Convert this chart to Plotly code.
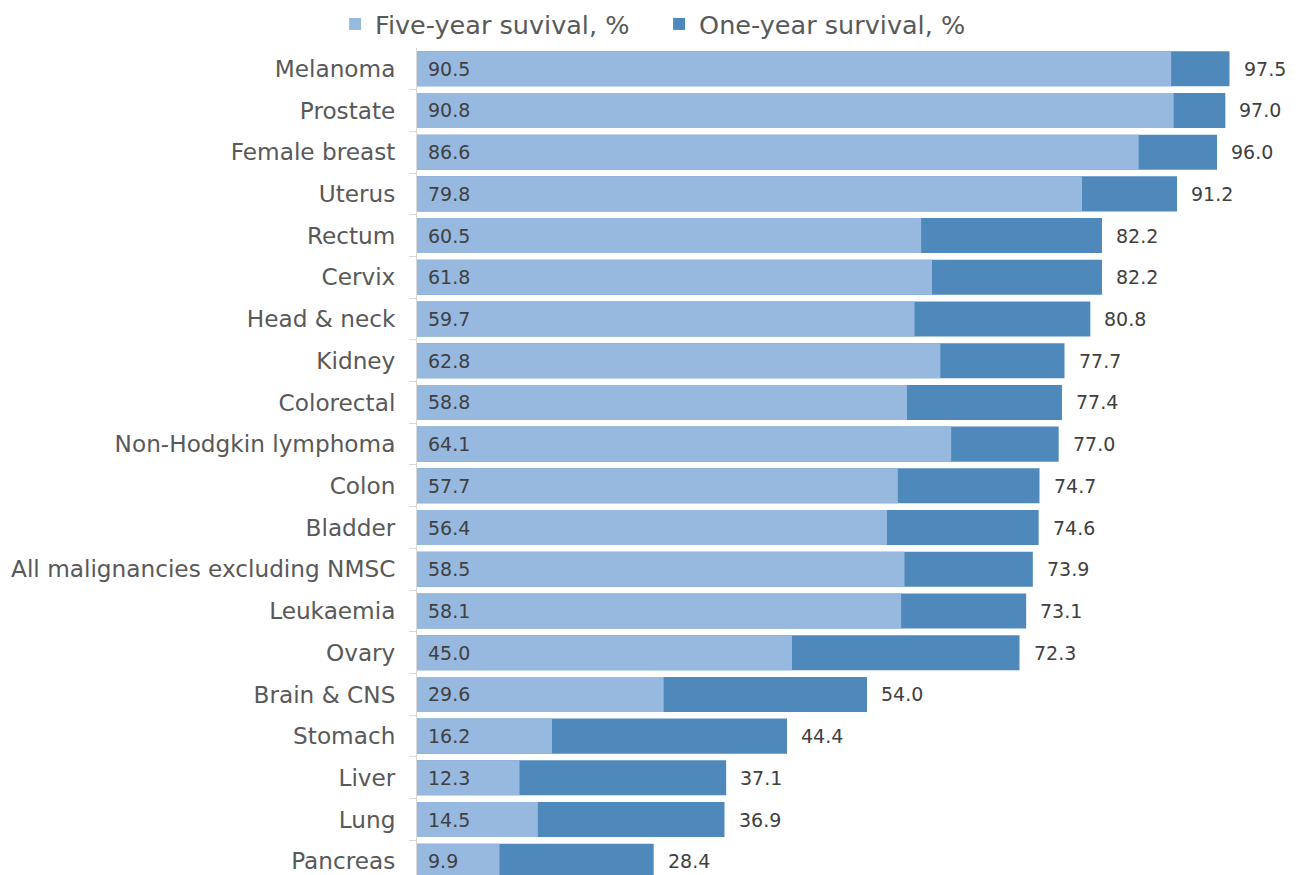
import plotly.graph_objects as go

sites = [
    "Melanoma", "Prostate", "Female breast", "Uterus", "Rectum", "Cervix",
    "Head & neck", "Kidney", "Colorectal", "Non-Hodgkin lymphoma", "Colon",
    "Bladder", "All malignancies excluding NMSC", "Leukaemia", "Ovary",
    "Brain & CNS", "Stomach", "Liver", "Lung", "Pancreas",
]
one_year = [97.5, 97.0, 96.0, 91.2, 82.2, 82.2, 80.8, 77.7, 77.4, 77.0,
            74.7, 74.6, 73.9, 73.1, 72.3, 54.0, 44.4, 37.1, 36.9, 28.4]
five_year = [90.5, 90.8, 86.6, 79.8, 60.5, 61.8, 59.7, 62.8, 58.8, 64.1,
             57.7, 56.4, 58.5, 58.1, 45.0, 29.6, 16.2, 12.3, 14.5, 9.9]

LIGHT = "#97B9E0"
DARK = "#4F89BC"
TEXT = "#404040"
LABEL = "#595959"
FONT = "DejaVu Sans"

fig = go.Figure()
fig.add_trace(go.Bar(
    y=sites, x=one_year, orientation="h", name="One-year survival, %",
    marker=dict(color=DARK, line=dict(width=0)),
    legendrank=2, hoverinfo="x+y",
))
fig.add_trace(go.Bar(
    y=sites, x=five_year, orientation="h", name="Five-year suvival, %",
    marker=dict(color=LIGHT, line=dict(width=0)),
    legendrank=1, hoverinfo="x+y",
))

# value labels: five-year at the bar base, one-year just past the bar end
for site, v in zip(sites, five_year):
    fig.add_annotation(x=0, y=site, text=f"{v:.1f}", xanchor="left",
                       xshift=9, showarrow=False,
                       font=dict(family=FONT, size=19, color=TEXT))
for site, v in zip(sites, one_year):
    fig.add_annotation(x=v, y=site, text=f"{v:.1f}", xanchor="left",
                       xshift=12, showarrow=False,
                       font=dict(family=FONT, size=19, color=TEXT))

fig.update_layout(
    width=1300, height=875,
    barmode="overlay", bargap=0.16,
    margin=dict(l=417, r=8, t=47, b=0),
    plot_bgcolor="white", paper_bgcolor="white",
    font=dict(family=FONT, color=LABEL),
    showlegend=True,
    legend=dict(
        orientation="h", x=0.507, xanchor="center", xref="container",
        y=0.999, yanchor="top", yref="container",
        font=dict(family=FONT, size=25.5, color=LABEL),
        itemwidth=30, tracegroupgap=0, entrywidth=279,
    ),
    xaxis=dict(range=[0, 105], visible=False),
    yaxis=dict(
        type="category", range=[19.33, -0.5],
        showline=True, linecolor="#D9D9D9", linewidth=1,
        ticks="outside", ticklen=7, tickcolor="#D9D9D9",
        tickson="boundaries", showgrid=False,
        tickfont=dict(family=FONT, size=23.2, color=LABEL),
        ticklabelstandoff=16,
    ),
)

fig.write_html("out.html")
